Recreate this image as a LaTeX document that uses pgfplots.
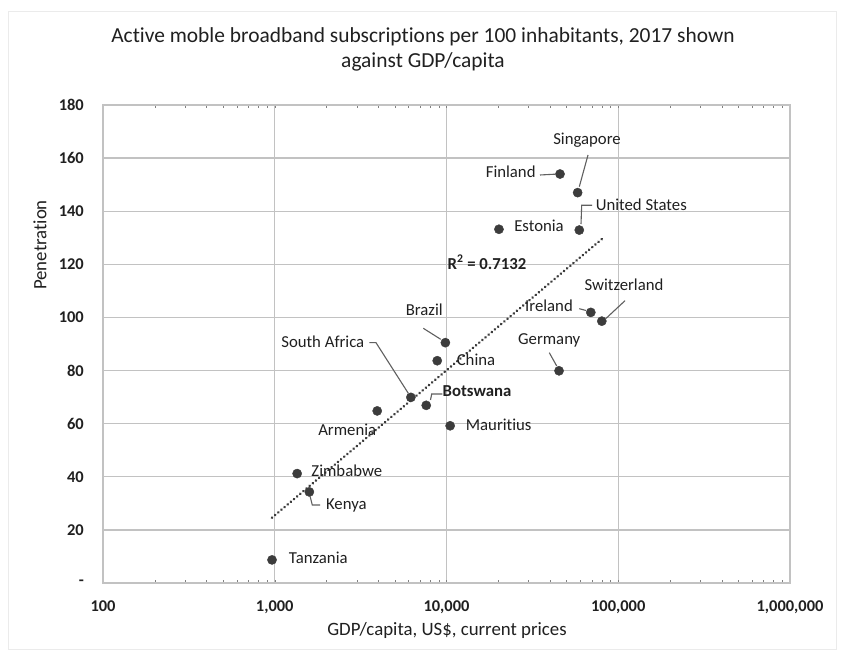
\documentclass[border=0pt]{standalone}
\usepackage{fontspec}
\setmainfont{Carlito}[Ligatures=NoCommon]
\usepackage{pgfplots}
\pgfplotsset{compat=1.18}
\definecolor{gridgray}{HTML}{C2C2C2}
\definecolor{dotgray}{HTML}{3C3C3C}
\definecolor{txt}{HTML}{202020}
\definecolor{leadgray}{HTML}{606060}

\begin{document}
\begin{tikzpicture}[x=1bp,y=1bp]
\useasboundingbox (0,0) rectangle (841,657);
\fill[white] (0,0) rectangle (841,657);
\draw[black!8, line width=1bp] (8,645) rectangle (836,7);

\begin{axis}[
  at={(103bp,74bp)}, anchor=south west,
  scale only axis, width=687bp, height=478bp,
  xmode=log, xmin=100, xmax=1000000, ymin=0, ymax=180,
  xtick={100,1000,10000,100000,1000000},
  xticklabels={100,{1,000},{10,000},{100,000},{1,000,000}},
  ytick={0,20,40,60,80,100,120,140,160,180},
  yticklabels={{-\hspace{7bp}},20,40,60,80,100,120,140,160,180},
  minor xtick={},
  major tick length=0pt,
  grid=major,
  grid style={gridgray, line width=1.4bp},
  axis line style={gridgray, line width=1.4bp},
  tick label style={font=\fontsize{16.5}{16.5}\selectfont\bfseries, text=txt},
  yticklabel style={anchor=east, inner sep=0pt, xshift=-19bp},
  xticklabel style={anchor=north, inner sep=0pt, yshift=-18bp},
  clip=false,
]
% logarithmic trend line across the range of the data
\addplot[dotgray, line width=2.9bp, line cap=round,
  dash pattern=on 0.01bp off 4.1bp] coordinates {
  (964,24.6) (80200,129.5)
};
% countries: GDP per capita (US$) vs. active mobile broadband per 100
\addplot[only marks, mark=*, mark size=4.6bp,
  mark options={draw=dotgray, fill=dotgray}] coordinates {
  (58000,147.0)   % Singapore
  (45800,154.0)   % Finland
  (59300,132.9)   % United States
  (20200,133.2)   % Estonia
  (69200,101.9)   % Ireland
  (80200,98.6)    % Switzerland
  (45200,79.9)    % Germany
  (9850,90.5)     % Brazil
  (8830,83.7)     % China
  (6200,69.9)     % South Africa
  (7620,66.9)     % Botswana
  (3950,64.8)     % Armenia
  (10500,59.2)    % Mauritius
  (1350,41.2)     % Zimbabwe
  (1590,34.3)     % Kenya
  (964,8.7)       % Tanzania
};
\end{axis}

\begin{scope}[shift={(0,657)}, y=-1bp,
  lab/.style={anchor=mid, inner sep=0pt, text=txt, font=\fontsize{16.8}{16.8}\selectfont},
  leader/.style={leadgray, line width=1.1bp}]
  % title and axis titles
  \node[anchor=mid, text=txt, font=\fontsize{21.5}{21.5}\selectfont] at (423,40)
    {Active moble broadband subscriptions per 100 inhabitants, 2017 shown};
  \node[anchor=mid, text=txt, font=\fontsize{21.5}{21.5}\selectfont] at (423,65)
    {against GDP/capita};
  \node[anchor=mid, text=txt, font=\fontsize{18.9}{18.9}\selectfont] at (447,633)
    {GDP/capita, US\$, current prices};
  \node[anchor=center, rotate=90, text=txt, font=\fontsize{18.9}{18.9}\selectfont] at (40,245)
    {Penetration};

  % point labels
  \node[lab] at (587,141.7) {Singapore};
  \node[lab] at (510.7,175) {Finland};
  \node[lab] at (641.3,207.7) {United States};
  \node[lab] at (539,229.3) {Estonia};
  \node[lab] at (624,288.3) {Switzerland};
  \node[lab] at (549,309.3) {Ireland};
  \node[lab] at (424.3,313.3) {Brazil};
  \node[lab] at (549.2,341.7) {Germany};
  \node[lab] at (476,362.7) {China};
  \node[lab] at (322.8,345) {South Africa};
  \node[lab, font=\fontsize{16.8}{16.8}\selectfont\bfseries] at (477,394) {Botswana};
  \node[lab] at (347.2,432.7) {Armenia};
  \node[lab] at (498.7,427.7) {Mauritius};
  \node[lab] at (346.8,474.3) {Zimbabwe};
  \node[lab] at (346.3,506.7) {Kenya};
  \node[lab] at (318.3,561.3) {Tanzania};
  \node[lab, font=\fontsize{16.8}{16.8}\selectfont\bfseries] at (487,266.7) {R\textsuperscript{2} = 0.7132};

  % leader lines
  \draw[leader] (588,155) -- (579.3,186.7);
  \draw[leader] (540,175) -- (555,174.2);
  \draw[leader] (592,205.3) -- (581.7,205.3) -- (581,224);
  \draw[leader] (579.3,308.7) -- (586,310.5);
  \draw[leader] (625,300.7) -- (605.7,318.7);
  \draw[leader] (423.3,328.3) -- (440.7,339.3);
  \draw[leader] (549.3,352.7) -- (556.7,366);
  \draw[leader] (369.3,342.7) -- (376,342.7) -- (408.3,393.3);
  \draw[leader] (442.3,394) -- (431.7,394) -- (430.5,400);
  \draw[leader] (310,496) -- (312.3,505) -- (320,505);
\end{scope}
\end{tikzpicture}
\end{document}
